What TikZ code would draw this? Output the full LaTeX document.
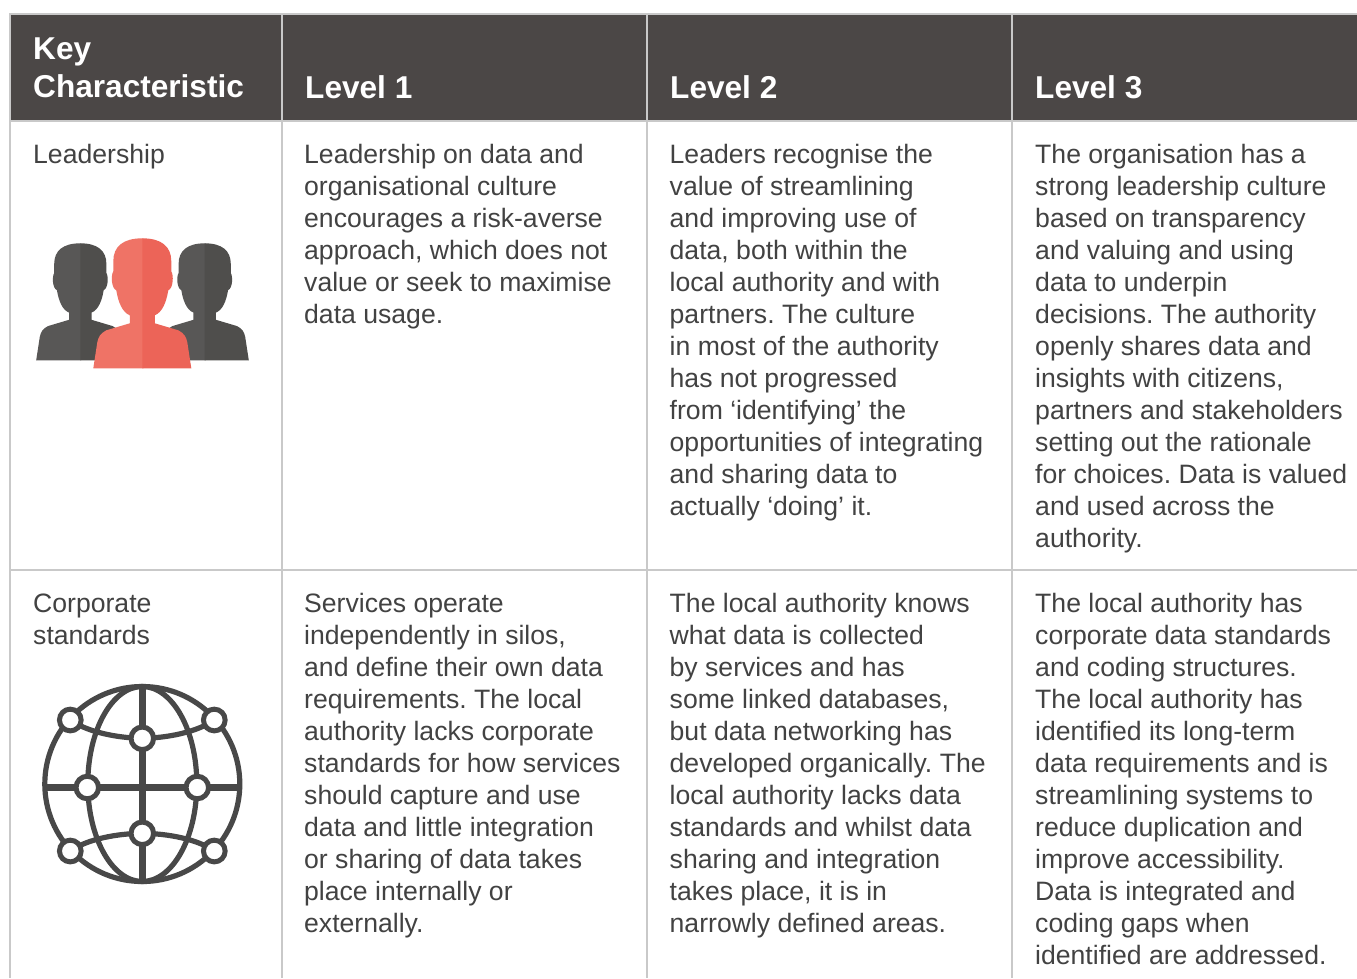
\documentclass[tikz,border=0pt]{standalone}
\usepackage{fontspec}
\setmainfont{Liberation Sans}
\frenchspacing
\definecolor{headbg}{HTML}{4B4746}
\definecolor{rulec}{HTML}{C9C9C9}
\definecolor{txt}{HTML}{424242}
\definecolor{greyL}{HTML}{585756}
\definecolor{greyD}{HTML}{4F4E4C}
\definecolor{redL}{HTML}{EF7366}
\definecolor{redD}{HTML}{EC6458}
\definecolor{globec}{HTML}{484848}
\tikzset{
  x=1pt,y=-1pt,
  cell/.style={anchor=north west,inner sep=0pt,align=left,text=txt,font=\fontsize{26.6}{32}\selectfont,execute at begin node={\rule{0pt}{20pt}}},
  head/.style={anchor=north west,inner sep=0pt,align=left,text=white,font=\fontsize{31.6}{38}\selectfont\bfseries,execute at begin node={\rule{0pt}{24pt}}},
  tabrule/.style={draw=rulec,line width=1.2pt},
  glob/.style={draw=globec,line width=5.2pt},
  globaxis/.style={draw=globec,line width=6.4pt},
  globdot/.style={circle,draw=globec,fill=white,line width=5pt,minimum size=21.7pt,inner sep=0pt},
  globdotbig/.style={globdot,minimum size=22.5pt},
  pics/person/.style n args={2}{code={
    \fill[#1] (1,0) -- (0,0) .. controls (-19,0) and (-29,8) .. (-29,23) -- (-29,33)
      .. controls (-31.5,37) and (-31,50) .. (-26,52)
      .. controls (-24,64) and (-20,74) .. (-12.5,77) -- (-12.5,85)
      -- (-36,92) .. controls (-42,95) and (-44,99) .. (-45,104) -- (-49,130) -- (1,130) -- cycle;
    \fill[#2] (0,0) .. controls (19,0) and (29,8) .. (29,23) -- (29,33)
      .. controls (31.5,37) and (31,50) .. (26,52)
      .. controls (24,64) and (20,74) .. (12.5,77) -- (12.5,85)
      -- (36,92) .. controls (42,95) and (44,99) .. (45,104) -- (49,130) -- (0,130) -- cycle;
  }}
}
\begin{document}
\begin{tikzpicture}
\useasboundingbox (0,0) rectangle (1357,978);
\fill[white] (0,0) rectangle (1357,978);
% header
\fill[headbg] (10,14) rectangle (1357,121);
% rules
\draw[tabrule] (1357,14) -- (10,14) -- (10,978);
\draw[tabrule] (10,121) -- (1357,121);
\draw[tabrule] (10,570) -- (1357,570);
\draw[tabrule] (282,14) -- (282,978);
\draw[tabrule] (647,14) -- (647,978);
\draw[tabrule] (1012,14) -- (1012,978);
% header text
\node[head] (h0) at (33,38) {Key\\Characteristic};
\node[head] (h1) at (305,74) {Level 1};
\node[head] (h2) at (670,74) {Level 2};
\node[head] (h3) at (1035,74) {Level 3};
% row 1
\node[cell] (a0) at (33,143) {Leadership};
\node[cell] (a1) at (304,144) {Leadership on data and\\organisational culture\\encourages a risk-averse\\approach, which does not\\value or seek to maximise\\data usage.};
\node[cell] (a2) at (669.5,144) {Leaders recognise the\\value of streamlining\\and improving use of\\data, both within the\\local authority and with\\partners. The culture\\in most of the authority\\has not progressed\\from ‘identifying’ the\\opportunities of integrating\\and sharing data to\\actually ‘doing’ it.};
\node[cell] (a3) at (1035,144) {The organisation has a\\strong leadership culture\\based on transparency\\and valuing and using\\data to underpin\\decisions. The authority\\openly shares data and\\insights with citizens,\\partners and stakeholders\\setting out the rationale\\for choices. Data is valued\\and used across the\\authority.};
% row 2
\node[cell] (b0) at (33,594) {Corporate\\standards};
\node[cell] (b1) at (304,593) {Services operate\\independently in silos,\\and define their own data\\requirements. The local\\authority lacks corporate\\standards for how services\\should capture and use\\data and little integration\\or sharing of data takes\\place internally or\\externally.};
\node[cell] (b2) at (669.5,593) {The local authority knows\\what data is collected\\by services and has\\some linked databases,\\but data networking has\\developed organically. The\\local authority lacks data\\standards and whilst data\\sharing and integration\\takes place, it is in\\narrowly defined areas.};
\node[cell] (b3) at (1035,593) {The local authority has\\corporate data standards\\and coding structures.\\The local authority has\\identified its long-term\\data requirements and is\\streamlining systems to\\reduce duplication and\\improve accessibility.\\Data is integrated and\\coding gaps when\\identified are addressed.};
% people icon
\pic[transform shape,xscale=.9,yscale=.9] at (80.3,243.3) {person={greyL}{greyD}};
\pic[transform shape,xscale=.9,yscale=.9] at (204.7,243.3) {person={greyL}{greyD}};
\pic at (142.3,238.3) {person={redL}{redD}};
% globe icon
\begin{scope}[shift={(142.3,784)}]
  \draw[glob] (0,0) circle[radius=97.5];
  \draw[glob] (0,0) ellipse[x radius=54.5,y radius=97.5];
  \draw[globaxis] (-97,3.5) -- (97,3.5);
  \draw[globaxis] (0,-97.5) -- (0,97.5);
  \coordinate (tl) at (-72,-64); \coordinate (tr) at (72,-64);
  \coordinate (tc) at (0,-45.7); \coordinate (bc) at (0,49.3);
  \coordinate (bl) at (-72,67);  \coordinate (br) at (72,67);
  \coordinate (ml) at (-55,3.5); \coordinate (mr) at (55,3.5);
  \draw[glob] (tl) .. controls (-55,-52) and (-25,-46) .. (tc) .. controls (25,-46) and (55,-52) .. (tr);
  \draw[glob] (bl) .. controls (-55,55) and (-25,49.5) .. (bc) .. controls (25,49.5) and (55,55) .. (br);
  \foreach \n in {tl,tr,bl,br} \node[globdot] at (\n) {};
  \foreach \n in {tc,bc,ml,mr} \node[globdotbig] at (\n) {};
\end{scope}
\end{tikzpicture}
\end{document}
